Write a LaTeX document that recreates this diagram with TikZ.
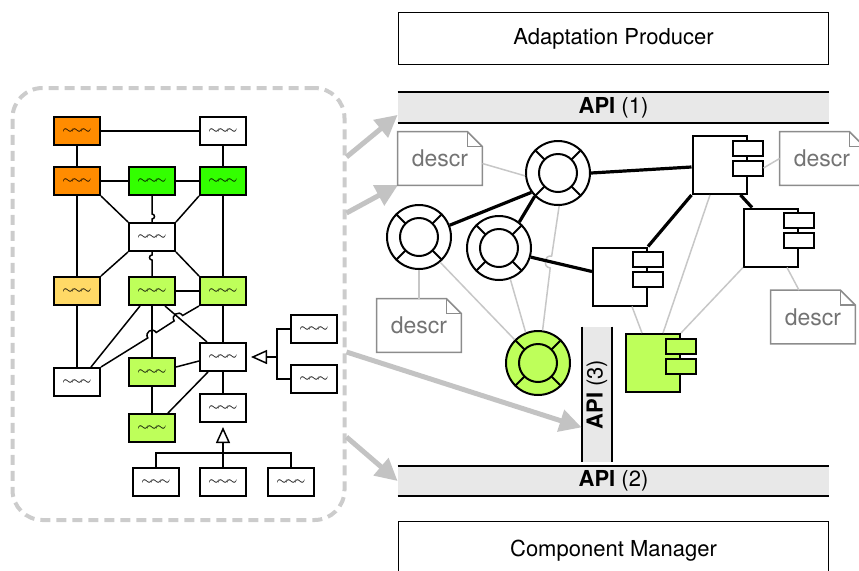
\documentclass[tikz,border=0pt]{standalone}
\usepackage{fontspec}
\setmainfont{TeX Gyre Heros}
\usetikzlibrary{arrows.meta}

\definecolor{orangefort}{RGB}{255,140,0}
\definecolor{vertvif}{RGB}{51,255,0}
\definecolor{vertclair}{RGB}{190,255,90}
\definecolor{jaune}{RGB}{255,217,102}
\definecolor{grisfleche}{RGB}{195,195,195}

\tikzset{
  boite/.style={draw, line width=1pt, minimum width=23pt, minimum height=14pt,
    inner sep=0pt, font=\fontsize{6}{6}\selectfont},
  lien/.style={line width=0.75pt},
  herit/.style={-{Triangle[open,length=8pt,width=7pt]}, line width=0.75pt},
  grosfleche/.style={-{Triangle[length=11pt,width=11pt]}, line width=2.5pt, draw=grisfleche},
  cadre/.style={draw=black!20, line width=2pt, dash pattern=on 5pt off 3pt,
    rounded corners=15pt, minimum width=166pt, minimum height=216pt},
  bouee/.style={circle, draw, line width=1pt, minimum size=32pt, inner sep=0pt},
  compo/.style={draw, line width=1pt, minimum width=27pt, minimum height=29pt, inner sep=0pt},
  port/.style={draw, line width=1pt, minimum width=15pt, minimum height=7.5pt, inner sep=0pt},
  note/.style={minimum width=42pt, minimum height=26.5pt, inner sep=0pt, text=black!55,
    font=\fontsize{11.5}{12}\selectfont},
  notebord/.style={draw=black!45, line width=0.75pt},
  gris/.style={draw=black!22, line width=0.75pt},
  fort/.style={line width=1.6pt},
  api/.style={fill=black!9, minimum width=215.5pt, minimum height=15pt, inner sep=0pt,
    font=\fontsize{11}{12}\selectfont},
}

\newcommand{\vague}{$\sim\!\sim\!\sim$}
% bouee : nom, position, remplissage
\newcommand{\lifering}[3]{%
  \node[bouee, fill=#3] (#1) at (#2) {};
  \draw[line width=1pt] (#1.center) circle (9.5pt);
  \foreach \ang in {45,135,225,315}
    \draw[line width=1pt] ([shift={(\ang:9.5pt)}]#1.center) -- (#1.\ang);
}
% composant : nom, position, remplissage
\newcommand{\composant}[3]{%
  \node[compo, fill=#3] (#1) at (#2) {};
  \node[port, fill=#3] (#1a) at ([yshift=8.5pt]#1.east) {};
  \node[port, fill=#3] (#1b) at ([yshift=-1.5pt]#1.east) {};
}
% note : options, nom, position
\newcommand{\notedescr}[3][]{%
  \node[note,#1] (#2) at (#3) {descr};
  \draw[notebord] (#2.south west) -- (#2.north west) -- ([xshift=-7.5pt]#2.north east)
    -- ([yshift=-7.5pt]#2.north east) -- (#2.south east) -- cycle;
  \draw[notebord] ([xshift=-7.5pt]#2.north east) |- ([yshift=-7.5pt]#2.north east);
}

\begin{document}
\begin{tikzpicture}[x=0.5pt,y=-0.5pt]
  \useasboundingbox (0,0) rectangle (859,570);

  % Cadre gauche : le modele
  \node[cadre] (groupe) at (178.5,304) {};

  \node[boite, fill=orangefort] (o1) at (77,131) {\vague};
  \node[boite, fill=white]      (w1) at (223,131) {\vague};
  \node[boite, fill=orangefort] (o2) at (77,181) {\vague};
  \node[boite, fill=vertvif]    (g1) at (152,181) {\vague};
  \node[boite, fill=vertvif]    (g2) at (223,181) {\vague};
  \node[boite, fill=white]      (m)  at (152,237) {\vague};
  \node[boite, fill=jaune]      (y1) at (77,291) {\vague};
  \node[boite, fill=vertclair]  (la) at (152,291) {\vague};
  \node[boite, fill=vertclair]  (lb) at (223,291) {\vague};
  \node[boite, fill=white]      (c)  at (223,357) {\vague};
  \node[boite, fill=white]      (wl) at (77,382) {\vague};
  \node[boite, fill=vertclair]  (ld) at (152,372) {\vague};
  \node[boite, fill=vertclair]  (le) at (152,428) {\vague};
  \node[boite, fill=white]      (f)  at (223,408) {\vague};
  \node[boite, fill=white]      (r1) at (314,329) {\vague};
  \node[boite, fill=white]      (r2) at (314,379) {\vague};
  \node[boite, fill=white]      (b1) at (156,482) {\vague};
  \node[boite, fill=white]      (b2) at (223,482) {\vague};
  \node[boite, fill=white]      (b3) at (291,482) {\vague};

  \draw[lien] (o1) -- (w1);
  \draw[lien] (o1) -- (o2);
  \draw[lien] (w1) -- (g2);
  \draw[lien] (o2) -- (g1);
  \draw[lien] (g1) -- (g2);
  \draw[lien] (o2.south east) -- (m.north west);
  \draw[lien] (g2.south west) -- (m.north east);
  \draw[lien] (g1.south) -- ++(0,18) .. controls +(3.3,0) and +(3.3,0) .. ++(0,5) -- (m.north);
  \draw[lien] (m.south) -- ++(0,3) .. controls +(-3.3,0) and +(-3.3,0) .. ++(0,5) -- (la.north);
  \draw[lien] (m.south west) -- (y1.north east);
  \draw[lien] (m.south east) -- (lb.north west);
  \draw[lien] (o2) -- (y1);
  \draw[lien] (g2) -- (lb);
  \draw[lien] (la) -- (lb);
  \draw[lien] (y1) -- (wl);
  \draw[lien] ([xshift=-6pt]la.south) -- ([xshift=7pt]wl.north);
  \draw[lien] (la) -- (ld);
  \draw[lien] ([xshift=6.5pt]la.south) -- ([xshift=-8pt]c.north);
  \draw[lien] (lb) -- (c);
  % lien avec sauts
  \coordinate (h1a) at (147.8,337.9);
  \coordinate (h1b) at (156.2,332.5);
  \coordinate (h2a) at (174.2,320.9);
  \coordinate (h2b) at (182.6,315.5);
  \draw[lien] (wl.north east) -- (h1a) .. controls +(-3.6,-5.6) and +(-3.6,-5.6) .. (h1b)
    -- (h2a) .. controls +(-3.6,-5.6) and +(-3.6,-5.6) .. (h2b) -- (lb.south west);
  \draw[lien] ([yshift=2.5pt]ld.east) -- ([yshift=-2pt]c.west);
  \draw[lien] (ld) -- (le);
  \draw[lien] ([xshift=8pt]le.north) -- ([xshift=4.5pt]c.south west);
  \draw[lien] (c) -- (f);

  % heritage
  \coordinate (jb) at (223,453);
  \draw[lien] (b1.north) |- (jb) -| (b3.north);
  \draw[herit] (b2.north) -- ([yshift=-2pt]f.south);
  \coordinate (jh) at (277,357);
  \draw[lien] (r1.west) -| (jh) |- (r2.west);
  \draw[herit] (jh) -- ([xshift=2pt]c.east);

  % Producteur, gestionnaire et API
  \node[draw, line width=0.75pt, minimum width=215pt, minimum height=26pt,
    font=\fontsize{11}{13}\selectfont] (prod) at (613.5,38.5) {Adaptation Producer};
  \node[draw, line width=0.75pt, minimum width=215pt, minimum height=29pt,
    font=\fontsize{11}{13}\selectfont] (gest) at (613.5,550.5) {Component Manager};
  \node[api] (api1) at (613.5,107.5) {\textbf{API} (1)};
  \draw[line width=1pt] (api1.north west) -- (api1.north east) (api1.south west) -- (api1.south east);
  \node[api] (api2) at (613.5,481) {\textbf{API} (2)};
  \draw[line width=1pt] (api2.north west) -- (api2.north east) (api2.south west) -- (api2.south east);
  \node[fill=black!9, minimum width=15pt, minimum height=67.5pt, inner sep=0pt] (api3) at (597,394.5) {};
  \draw[line width=1pt] (api3.north west) -- (api3.south west) (api3.north east) -- (api3.south east);
  \node[rotate=90, font=\fontsize{11}{12}\selectfont] at (api3) {\textbf{API} (3)};

  % Grosses fleches
  \draw[grosfleche] (groupe.east |- 0,157) -- ([yshift=4pt]api1.south west);
  \draw[grosfleche] (groupe.east |- 0,213) -- (398,185);
  \draw[grosfleche] (groupe.east |- 0,352) -- ([yshift=17.5pt]api3.south west);
  \draw[grosfleche] (groupe.east |- 0,437) -- (api2.west);

  % Architecture : bouees, composants et descriptions
  \notedescr{d1}{440,158.5}
  \notedescr{d2}{822,158.5}
  \notedescr{d3}{419,325.5}
  \notedescr{d4}{813,317}

  \lifering{rt}{558,173}{white}
  \lifering{rl}{419,237}{white}
  \lifering{rm}{499,248}{white}
  \lifering{rv}{538,363}{vertclair}

  \composant{c1}{719.5,165}{white}
  \composant{c2}{771,237.5}{white}
  \composant{c3}{620,276.5}{white}
  \composant{gc}{653,363}{vertclair}

  \coordinate (ha) at (551.7,256);
  \coordinate (hb) at (550.2,268);
  \draw[gris] ([yshift=-2.5pt]d1.east) -- (rt.185);
  \draw[gris] (rt.-88) -- (ha) .. controls +(-7.9,-1) and +(-7.9,-1) .. (hb) -- (rv.82);
  \draw[gris] (rl.-50) -- (rv.135);
  \draw[gris] (rm.-70) -- (rv.112);
  \draw[gris] (rl.south) -- (d3.north);
  \draw[gris] ([xshift=6pt]c3.south) -- ([xshift=-5.5pt]gc.north);
  \draw[gris] ([xshift=-4.75pt]c1.south) -- ([xshift=5pt]gc.north);
  \draw[gris] (c2.south west) -- (gc.north east);
  \draw[gris] (c1b.east) -- (d2.west);
  \draw[gris] ([xshift=8pt]c2.south) -- ([xshift=-7pt]d4.north);

  \draw[fort] (rt.east) -- ([yshift=-1pt]c1.west);
  \draw[fort] (rt.216) -- (rl.21);
  \draw[fort] (rt.225) -- (rm.52);
  \draw[fort] (rm.-16) -- ([yshift=2.5pt]c3.west);
  \draw[fort] (c1.south west) -- (c3.north east);
  \draw[fort] ([xshift=-3.5pt]c1.south east) -- ([xshift=4.5pt]c2.north west);
\end{tikzpicture}
\end{document}
